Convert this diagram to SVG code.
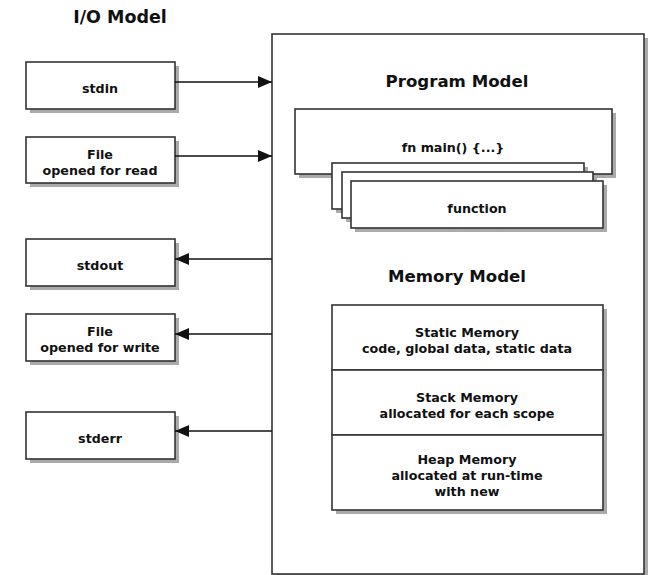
<svg xmlns="http://www.w3.org/2000/svg" width="652" height="575" viewBox="0 0 652 575">
<style>
.box{fill:#fff;stroke:#333;stroke-width:1.6}
.sh{fill:#aaa}
.t{font-family:"DejaVu Sans",Verdana,sans-serif;font-weight:bold;font-size:12.7px;fill:#111;text-anchor:middle}
.h{font-family:"DejaVu Sans",Verdana,sans-serif;font-weight:bold;font-size:16.6px;fill:#111;text-anchor:middle}
.c{stroke:#111;stroke-width:1.6;fill:none}
</style>
<defs>
<marker id="ah" markerWidth="14" markerHeight="12" refX="14" refY="6" orient="auto" markerUnits="userSpaceOnUse">
<path d="M0,0 L14,6 L0,12 Z" fill="#111"/>
</marker>
</defs>
<rect width="652" height="575" fill="#fff"/>
<text x="120" y="23" class="h" style="font-size:17.5px">I/O Model</text>

<g id="system">
<rect class="sh" x="276" y="38" width="372" height="540"/>
<rect class="box" x="272" y="34" width="372" height="540"/>
<text x="457" y="87" class="h">Program Model</text>
<text x="457" y="282" class="h">Memory Model</text>
</g>

<g id="main">
<rect class="sh" x="299" y="113" width="317" height="65"/>
<rect class="box" x="295" y="109" width="317" height="65"/>
<text x="453" y="152" class="t">fn main() {...}</text>
</g>

<g id="functions">
<rect class="sh" x="336" y="167" width="252" height="46"/>
<rect class="box" x="332" y="163" width="252" height="46"/>
<rect class="sh" x="346" y="176" width="251" height="46"/>
<rect class="box" x="342" y="172" width="251" height="46"/>
<rect class="sh" x="355" y="185" width="252" height="47"/>
<rect class="box" x="351" y="181" width="252" height="47"/>
<text x="477" y="213" class="t">function</text>
</g>

<g id="memory">
<rect class="sh" x="336" y="309" width="271" height="205"/>
<g id="static">
<rect class="box" x="332" y="305" width="271" height="65"/>
<text x="467" y="337" class="t">Static Memory</text>
<text x="467" y="353" class="t">code, global data, static data</text>
</g>
<g id="stack">
<rect class="box" x="332" y="370" width="271" height="65"/>
<text x="467" y="402" class="t">Stack Memory</text>
<text x="467" y="418" class="t">allocated for each scope</text>
</g>
<g id="heap">
<rect class="box" x="332" y="435" width="271" height="75"/>
<text x="467" y="464" class="t">Heap Memory</text>
<text x="467" y="480" class="t">allocated at run-time</text>
<text x="467" y="496" class="t">with new</text>
</g>
</g>

<g id="stdin">
<rect class="sh" x="30" y="66" width="149" height="47"/>
<rect class="box" x="26" y="62" width="149" height="47"/>
<text x="100" y="93" class="t">stdin</text>
</g>
<g id="fileread">
<rect class="sh" x="30" y="141" width="149" height="46"/>
<rect class="box" x="26" y="137" width="149" height="46"/>
<text x="100" y="159" class="t">File</text>
<text x="100" y="175" class="t">opened for read</text>
</g>
<g id="stdout">
<rect class="sh" x="30" y="243" width="149" height="47"/>
<rect class="box" x="26" y="239" width="149" height="47"/>
<text x="100" y="270" class="t">stdout</text>
</g>
<g id="filewrite">
<rect class="sh" x="30" y="318" width="149" height="47"/>
<rect class="box" x="26" y="314" width="149" height="47"/>
<text x="100" y="336" class="t">File</text>
<text x="100" y="352" class="t">opened for write</text>
</g>
<g id="stderr">
<rect class="sh" x="30" y="416" width="149" height="47"/>
<rect class="box" x="26" y="412" width="149" height="47"/>
<text x="100" y="443" class="t">stderr</text>
</g>

<g id="connectors">
<line class="c" x1="175" y1="82" x2="272" y2="82" marker-end="url(#ah)"/>
<line class="c" x1="175" y1="156" x2="272" y2="156" marker-end="url(#ah)"/>
<line class="c" x1="272" y1="259" x2="175" y2="259" marker-end="url(#ah)"/>
<line class="c" x1="272" y1="334" x2="175" y2="334" marker-end="url(#ah)"/>
<line class="c" x1="272" y1="431" x2="175" y2="431" marker-end="url(#ah)"/>
</g>
</svg>
